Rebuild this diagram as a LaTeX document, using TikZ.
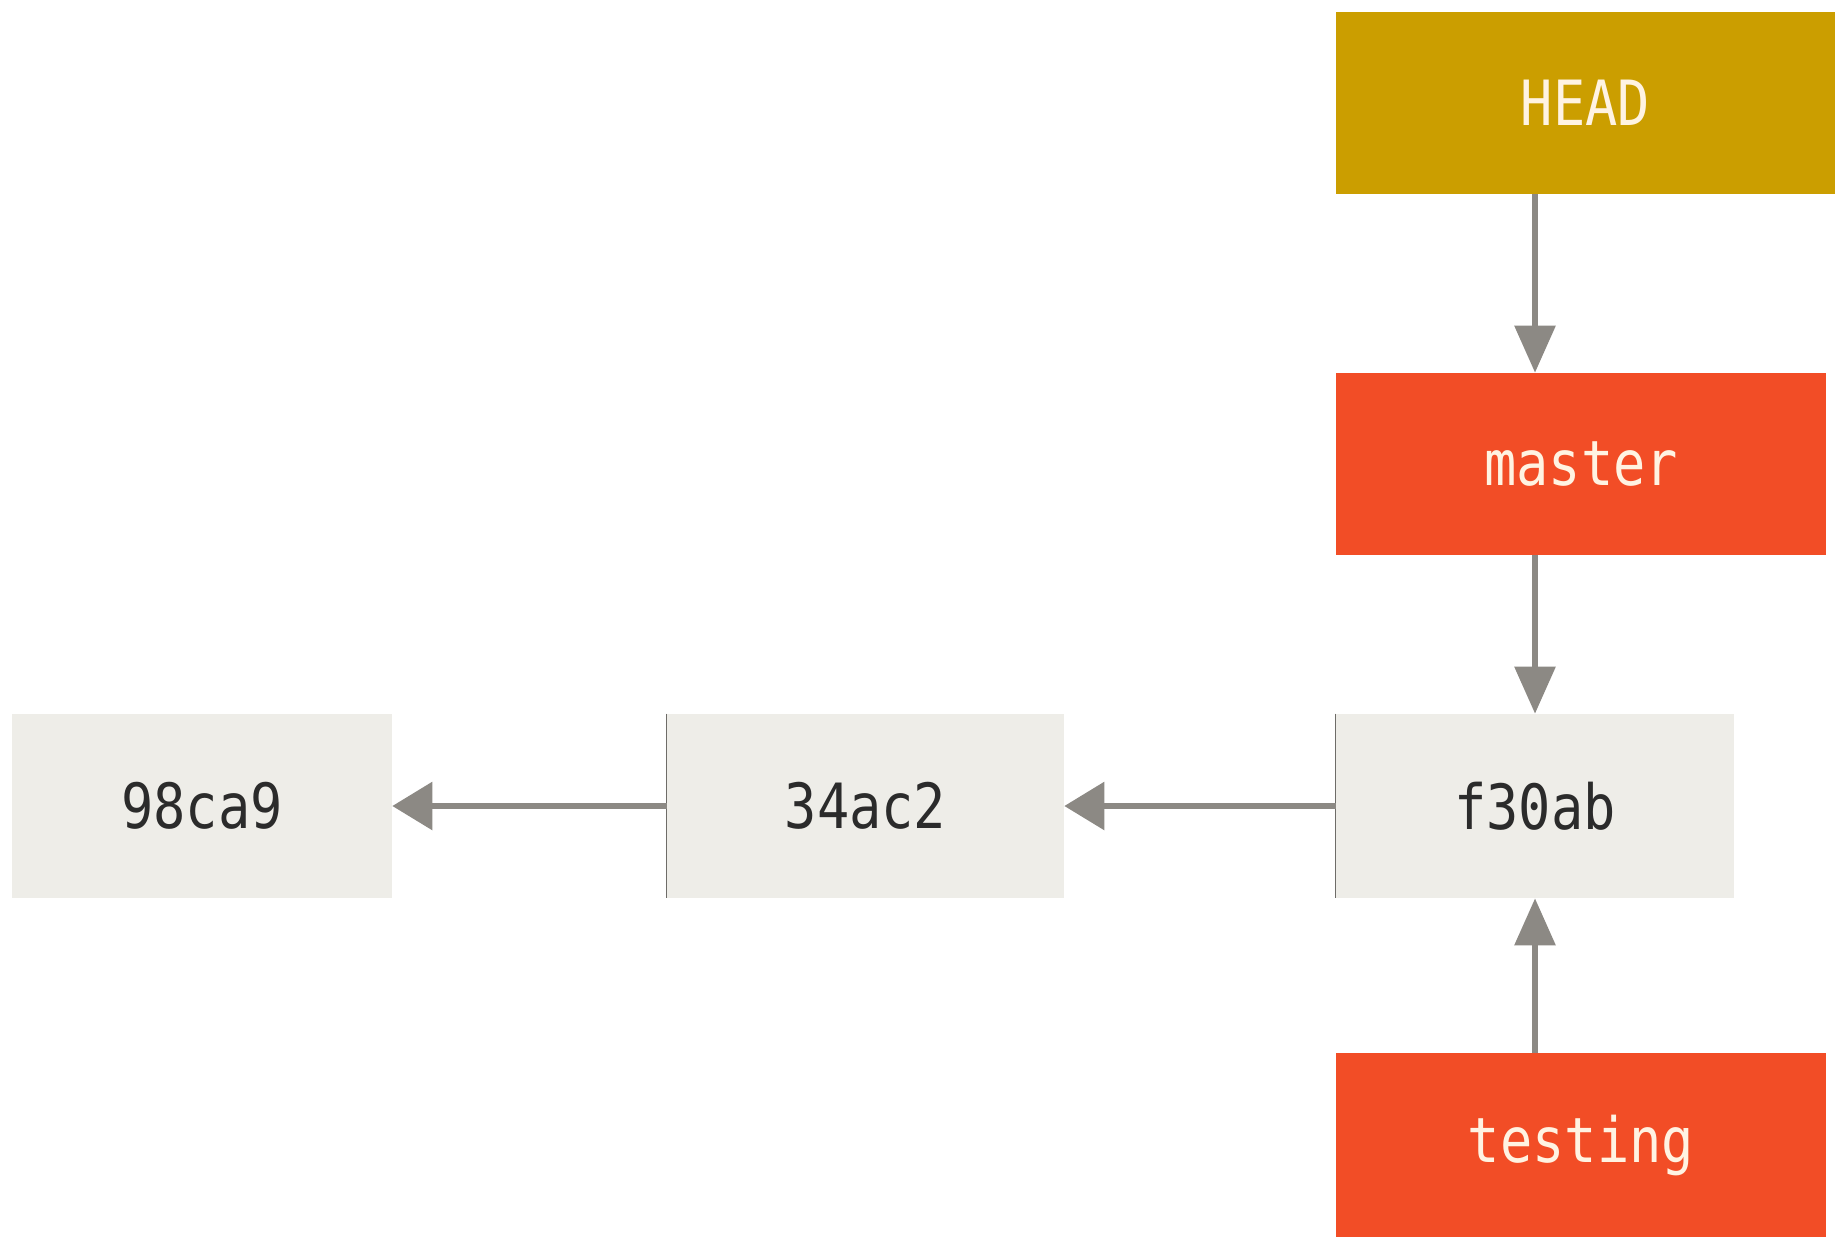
\documentclass[tikz,border=0pt]{standalone}
\usepackage{fontspec}
\newfontfamily\gitmono[FakeStretch=0.86]{DejaVu Sans Mono}
\usetikzlibrary{arrows.meta}
\definecolor{headgold}{HTML}{CB9E00}
\definecolor{branchred}{HTML}{F24D26}
\definecolor{commitfill}{HTML}{EEEDE8}
\definecolor{commitink}{HTML}{2B2B2B}
\definecolor{labelink}{HTML}{FFF3E2}
\definecolor{linkgray}{HTML}{8C8984}
\definecolor{edgegray}{HTML}{6E6C68}
\begin{document}
\begin{tikzpicture}[x=0.02cm,y=-0.02cm,
  box/.style={rectangle,inner sep=0pt,font=\gitmono\fontsize{35.5}{40}\selectfont},
  commit/.style={box,fill=commitfill,text=commitink,minimum height=3.68cm},
  headref/.style={box,fill=headgold,text=labelink,minimum height=3.64cm},
  branch/.style={box,fill=branchred,text=labelink},
  hlink/.style={draw=linkgray,line width=3.4pt,-{Triangle[length=0.8cm,width=0.94cm]}},
  vlink/.style={draw=linkgray,line width=3.4pt,-{Triangle[length=0.94cm,width=0.8cm]}},
  edgeline/.style={draw=edgegray,line width=0.6pt}]
\useasboundingbox (0,0) rectangle (1841,1237);
\fill[white] (0,0) rectangle (1841,1237);

% commits
\node[commit,minimum width=7.6cm]  (c1) at (202,806)    {98ca9};
\node[commit,minimum width=7.94cm] (c2) at (865.5,806)  {34ac2};
\node[commit,minimum width=7.96cm] (c3) at (1535,806)   {f30ab};

% references
\node[headref,minimum width=9.98cm] (head) at (1585.5,103) {HEAD};
\node[branch,minimum width=9.8cm,minimum height=3.64cm] (master) at (1581,464) {master};
\node[branch,minimum width=9.8cm,minimum height=3.68cm] (testing) at (1581,1145) {testing};

% thin left edges of the later commits
\draw[edgeline] (c2.north west) -- (c2.south west);
\draw[edgeline] (c3.north west) -- (c3.south west);

% parent links
\draw[hlink] (c2.west) -- (c1.east);
\draw[hlink] (c3.west) -- (c2.east);

% reference pointers
\draw[vlink] (head.south -| c3.center) -- (master.north -| c3.center);
\draw[vlink] (master.south -| c3.center) -- (c3.north);
\draw[vlink] (testing.north -| c3.center) -- (c3.south);
\end{tikzpicture}
\end{document}
